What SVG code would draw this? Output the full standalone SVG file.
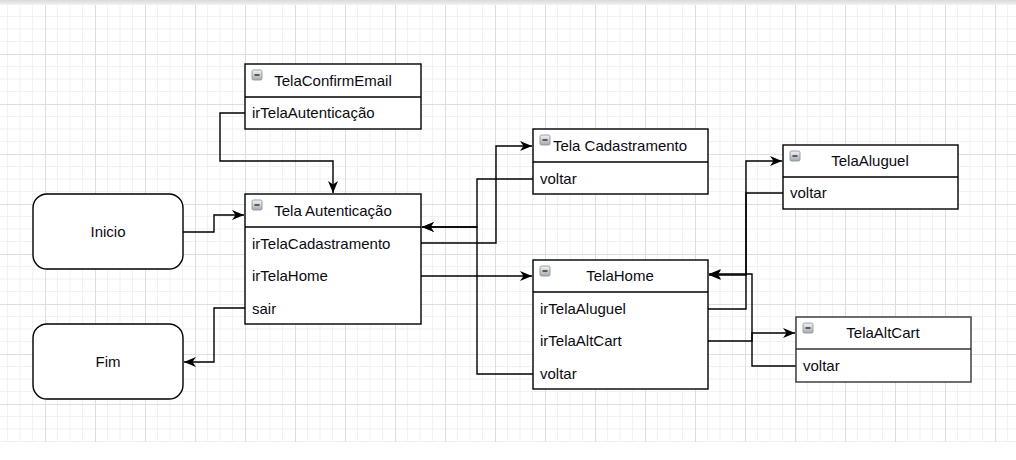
<svg xmlns="http://www.w3.org/2000/svg" width="1016" height="460" viewBox="0 0 1016 460">
<style>
.box{fill:#fff;stroke:#000;stroke-width:1.4}
.div{stroke:#000;stroke-width:1.4}
.t{font-family:"Liberation Sans",Arial,sans-serif;font-size:15px;fill:#0a0a14}
.c{text-anchor:middle}
.conn path{fill:none;stroke:#000;stroke-width:1.4}
.ico{fill:url(#ig);stroke:#8a96a3;stroke-width:0.9}
.icm{stroke:#333;stroke-width:1.5}
</style>
<defs>
<pattern id="grid" x="45" y="4" width="50" height="50" patternUnits="userSpaceOnUse">
<path d="M12.5,0V50M25,0V50M37.5,0V50M0,12.5H50M0,25H50M0,37.5H50" stroke="#f1f1f1" stroke-width="1" fill="none"/>
<path d="M0.5,0V50M0,0.5H50" stroke="#dedede" stroke-width="1" fill="none"/>
</pattern>
<linearGradient id="ig" x1="0" y1="0" x2="0" y2="1"><stop offset="0" stop-color="#f4f4f4"/><stop offset="1" stop-color="#a3a9b0"/></linearGradient>
<linearGradient id="tb" x1="0" y1="0" x2="0" y2="1"><stop offset="0" stop-color="#d9d9d9"/><stop offset="1" stop-color="#f3f3f3"/></linearGradient>
<marker id="arr" markerUnits="userSpaceOnUse" markerWidth="13" markerHeight="12" refX="12" refY="6" orient="auto">
<path d="M0,1 L12,6 L0,11 L3.5,6 z" fill="#000"/>
</marker>
</defs>
<rect x="0" y="0" width="1016" height="460" fill="#fff"/>
<rect x="0" y="4" width="1016" height="438" fill="url(#grid)"/>
<rect x="0" y="0" width="1016" height="5" fill="url(#tb)"/>

<g class="conn">
<path d="M245,113 H220 V161 H333 V193" marker-end="url(#arr)"/>
<path d="M183,232 H214 V215 H244" marker-end="url(#arr)"/>
<path d="M245,308 H214 V362 H184" marker-end="url(#arr)"/>
<path d="M421,243 H496 V146 H532" marker-end="url(#arr)"/>
<path d="M533,179 H477 V227 H422" marker-end="url(#arr)"/>
<path d="M533,374 H477 V227 H422" marker-end="url(#arr)"/>
<path d="M421,276 H532" marker-end="url(#arr)"/>
<path d="M708,309 H746 V161 H782" marker-end="url(#arr)"/>
<path d="M783,193 H746 V275 H709" marker-end="url(#arr)"/>
<path d="M708,341 H752 V333 H795" marker-end="url(#arr)"/>
<path d="M796,366 H752 V274 H709" marker-end="url(#arr)"/>
</g>

<g id="inicio">
<rect class="box" x="33" y="194" width="150" height="75" rx="14"/>
<text class="t c" x="108" y="237">Inicio</text>
</g>
<g id="fim">
<rect class="box" x="33" y="324" width="150" height="75" rx="14"/>
<text class="t c" x="108" y="367">Fim</text>
</g>

<g id="telaConfirmEmail">
<rect class="box" x="245" y="64" width="176" height="65"/>
<line class="div" x1="245" y1="97" x2="421" y2="97"/>
<rect class="ico" x="252" y="70" width="10" height="10" rx="1.5"/>
<line class="icm" x1="254.5" y1="75" x2="259.5" y2="75"/>
<text class="t c" x="333" y="86">TelaConfirmEmail</text>
<text class="t" x="252" y="118">irTelaAutenticação</text>
</g>

<g id="telaAutenticacao">
<rect class="box" x="245" y="194" width="176" height="130"/>
<line class="div" x1="245" y1="227" x2="421" y2="227"/>
<rect class="ico" x="252" y="200" width="10" height="10" rx="1.5"/>
<line class="icm" x1="254.5" y1="205" x2="259.5" y2="205"/>
<text class="t c" x="333" y="216">Tela Autenticação</text>
<text class="t" x="252" y="249">irTelaCadastramento</text>
<text class="t" x="252" y="281">irTelaHome</text>
<text class="t" x="252" y="314">sair</text>
</g>

<g id="telaCadastramento">
<rect class="box" x="533" y="129" width="175" height="65"/>
<line class="div" x1="533" y1="162" x2="708" y2="162"/>
<rect class="ico" x="540" y="135" width="10" height="10" rx="1.5"/>
<line class="icm" x1="542.5" y1="140" x2="547.5" y2="140"/>
<text class="t c" x="620" y="151">Tela Cadastramento</text>
<text class="t" x="540" y="184">voltar</text>
</g>

<g id="telaHome">
<rect class="box" x="533" y="260" width="175" height="129"/>
<line class="div" x1="533" y1="292" x2="708" y2="292"/>
<rect class="ico" x="540" y="266" width="10" height="10" rx="1.5"/>
<line class="icm" x1="542.5" y1="271" x2="547.5" y2="271"/>
<text class="t c" x="620" y="281">TelaHome</text>
<text class="t" x="540" y="314">irTelaAluguel</text>
<text class="t" x="540" y="346">irTelaAltCart</text>
<text class="t" x="540" y="379">voltar</text>
</g>

<g id="telaAluguel">
<rect class="box" x="783" y="145" width="175" height="64"/>
<line class="div" x1="783" y1="177" x2="958" y2="177"/>
<rect class="ico" x="790" y="151" width="10" height="10" rx="1.5"/>
<line class="icm" x1="792.5" y1="156" x2="797.5" y2="156"/>
<text class="t c" x="870" y="166">TelaAluguel</text>
<text class="t" x="790" y="198">voltar</text>
</g>

<g id="telaAltCart">
<rect class="box" x="796" y="317" width="175" height="65" style="stroke:#333"/>
<line class="div" x1="796" y1="349" x2="971" y2="349" style="stroke:#333"/>
<rect class="ico" x="803" y="323" width="10" height="10" rx="1.5"/>
<line class="icm" x1="805.5" y1="328" x2="810.5" y2="328"/>
<text class="t c" x="883" y="338">TelaAltCart</text>
<text class="t" x="803" y="371">voltar</text>
</g>
</svg>
